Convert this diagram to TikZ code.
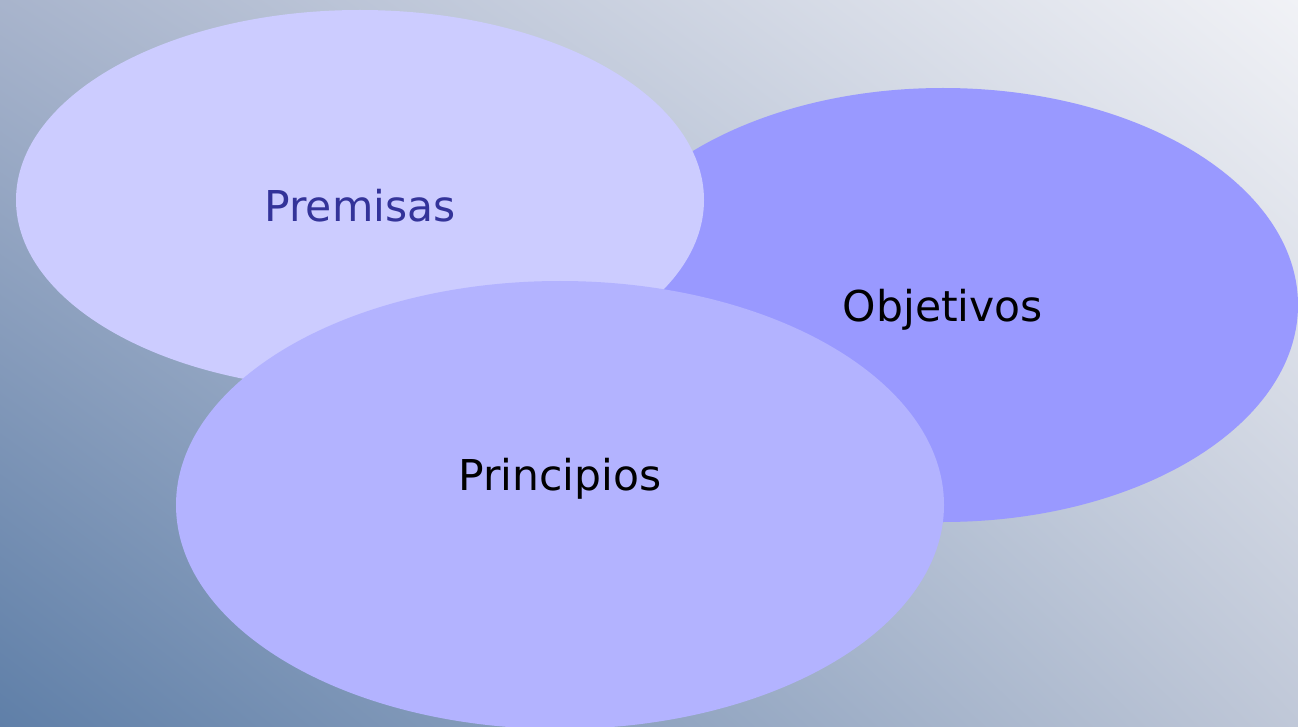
\documentclass[tikz,border=0pt]{standalone}
\usepackage{fontspec}
\setmainfont{DejaVu Sans}
\usetikzlibrary{shadings}
\definecolor{bgTL}{HTML}{A8B4CC}
\definecolor{bgBL}{HTML}{5F7FA8}
\definecolor{bgTR}{HTML}{F1F2F6}
\definecolor{bgBR}{HTML}{C0C8D8}
\definecolor{premfill}{HTML}{CCCCFF}
\definecolor{objfill}{HTML}{9999FF}
\definecolor{prinfill}{HTML}{B3B3FF}
\definecolor{premtext}{HTML}{333399}
\tikzset{
  blob/.style={draw=none},
  lbl/.style={font=\fontsize{42.5}{50}\selectfont, anchor=center, inner sep=0pt}
}
\begin{document}
\begin{tikzpicture}[x=1pt,y=-1pt]
\useasboundingbox (0,0) rectangle (1298,727);
\shade[upper left=bgTL, lower left=bgBL, upper right=bgTR, lower right=bgBR] (0,0) rectangle (1298,727);
\begin{scope}
\clip (0,0) rectangle (1298,727);
\fill[objfill, blob] (943,305) ellipse [x radius=355, y radius=217];
\fill[premfill, blob] (360,200) ellipse [x radius=344, y radius=190];
\fill[prinfill, blob] (560,505) ellipse [x radius=384, y radius=224];
\end{scope}
\node[lbl, text=premtext] (prem) at (360,206) {Premisas};
\node[lbl, text=black] (obj) at (943,310) {Objetivos};
\node[lbl, text=black] (prin) at (560,479) {Principios};
\end{tikzpicture}
\end{document}
